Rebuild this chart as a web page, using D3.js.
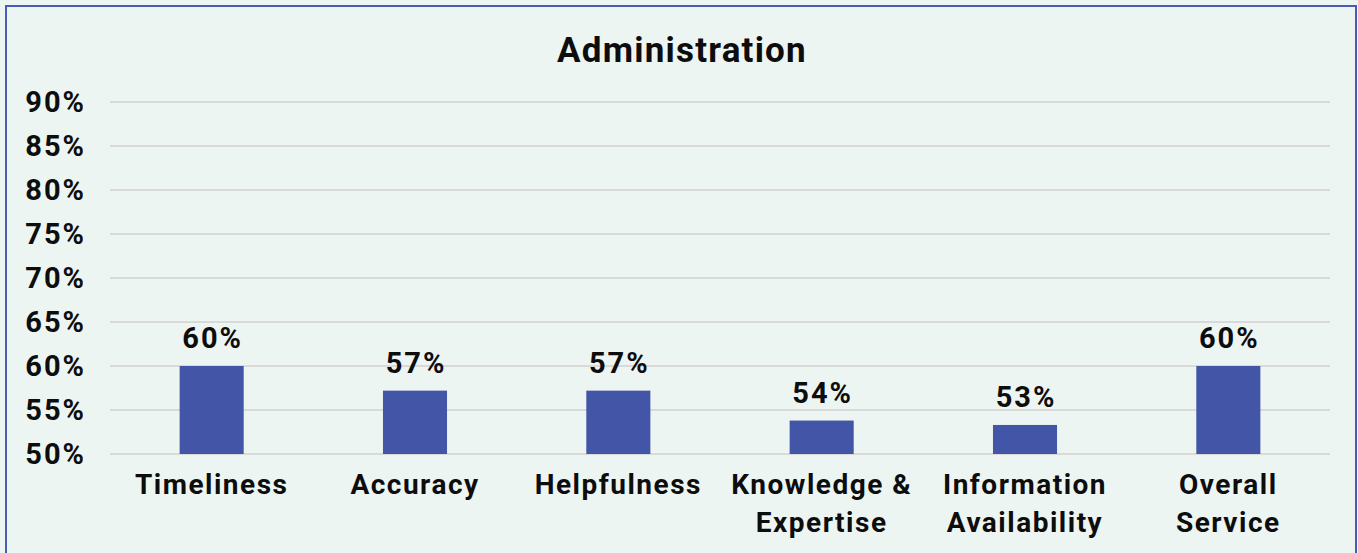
<!DOCTYPE html>
<html>
<head>
<meta charset="utf-8">
<script src="https://cdn.jsdelivr.net/npm/d3@7"></script>
<style>
  html, body { margin: 0; padding: 0; background: #edf5f2; }
  svg { display: block; }
  text { font-family: Roboto, "Open Sans", sans-serif; font-weight: 700; fill: #0d0d0d; }
</style>
</head>
<body>
<div id="chart"></div>
<script>
const categories = ["Timeliness", "Accuracy", "Helpfulness", "Knowledge & Expertise", "Information Availability", "Overall Service"];
const catLines = [["Timeliness"], ["Accuracy"], ["Helpfulness"], ["Knowledge &", "Expertise"], ["Information", "Availability"], ["Overall", "Service"]];
const values = [0.600, 0.572, 0.572, 0.538, 0.533, 0.600];
const tickValues = [0.50, 0.55, 0.60, 0.65, 0.70, 0.75, 0.80, 0.85, 0.90];
const title = "Administration";

const W = 1358, H = 553;
const margin = { left: 110, right: 28, top: 102, bottom: 99 };

const svg = d3.select("#chart").append("svg").attr("width", W).attr("height", H);

// frame
svg.append("rect")
  .attr("x", 6).attr("y", 6)
  .attr("width", 1350).attr("height", 560)
  .attr("fill", "#edf5f2")
  .attr("stroke", "#4a5bb5")
  .attr("stroke-width", 2);

const x = d3.scaleBand()
  .domain(categories)
  .range([margin.left, W - margin.right])
  .paddingInner(0.685)
  .paddingOuter(0.3425);

const y = d3.scaleLinear()
  .domain([0.5, 0.9])
  .range([H - margin.bottom, margin.top]);

// gridlines
svg.append("g")
  .selectAll("line")
  .data(tickValues)
  .join("line")
  .attr("x1", margin.left).attr("x2", W - margin.right)
  .attr("y1", d => y(d)).attr("y2", d => y(d))
  .attr("stroke", "#d9d9d9")
  .attr("stroke-width", 2);

// y tick labels
svg.append("g")
  .selectAll("text")
  .data(tickValues)
  .join("text")
  .attr("x", 86)
  .attr("y", d => y(d))
  .attr("dy", "0.36em")
  .attr("text-anchor", "end")
  .style("font-size", "29px")
  .style("letter-spacing", "2px")
  .text(d => Math.round(d * 100) + "%");

// bars
svg.append("g")
  .selectAll("rect")
  .data(values)
  .join("rect")
  .attr("x", (d, i) => x(categories[i]))
  .attr("width", x.bandwidth())
  .attr("y", d => y(d))
  .attr("height", d => y(0.5) - y(d))
  .attr("fill", "#4255a6");

// value labels
svg.append("g")
  .selectAll("text")
  .data(values)
  .join("text")
  .attr("x", (d, i) => x(categories[i]) + x.bandwidth() / 2 + 1)
  .attr("y", d => y(d) - 18)
  .attr("text-anchor", "middle")
  .style("font-size", "29px")
  .style("letter-spacing", "2px")
  .text(d => Math.round(d * 100) + "%");

// category labels
const cat = svg.append("g")
  .selectAll("text")
  .data(catLines)
  .join("text")
  .attr("x", (d, i) => x(categories[i]) + x.bandwidth() / 2)
  .attr("y", 494)
  .attr("text-anchor", "middle")
  .style("font-size", "28px")
  .style("letter-spacing", "1.5px");

cat.selectAll("tspan")
  .data(d => d)
  .join("tspan")
  .attr("x", function () { return this.parentNode.getAttribute("x"); })
  .attr("dy", (d, i) => i === 0 ? 0 : 38)
  .text(d => d);

// title
svg.append("text")
  .attr("x", 682)
  .attr("y", 62)
  .attr("text-anchor", "middle")
  .style("font-size", "35px")
  .style("letter-spacing", "1.2px")
  .text(title);
</script>
</body>
</html>
